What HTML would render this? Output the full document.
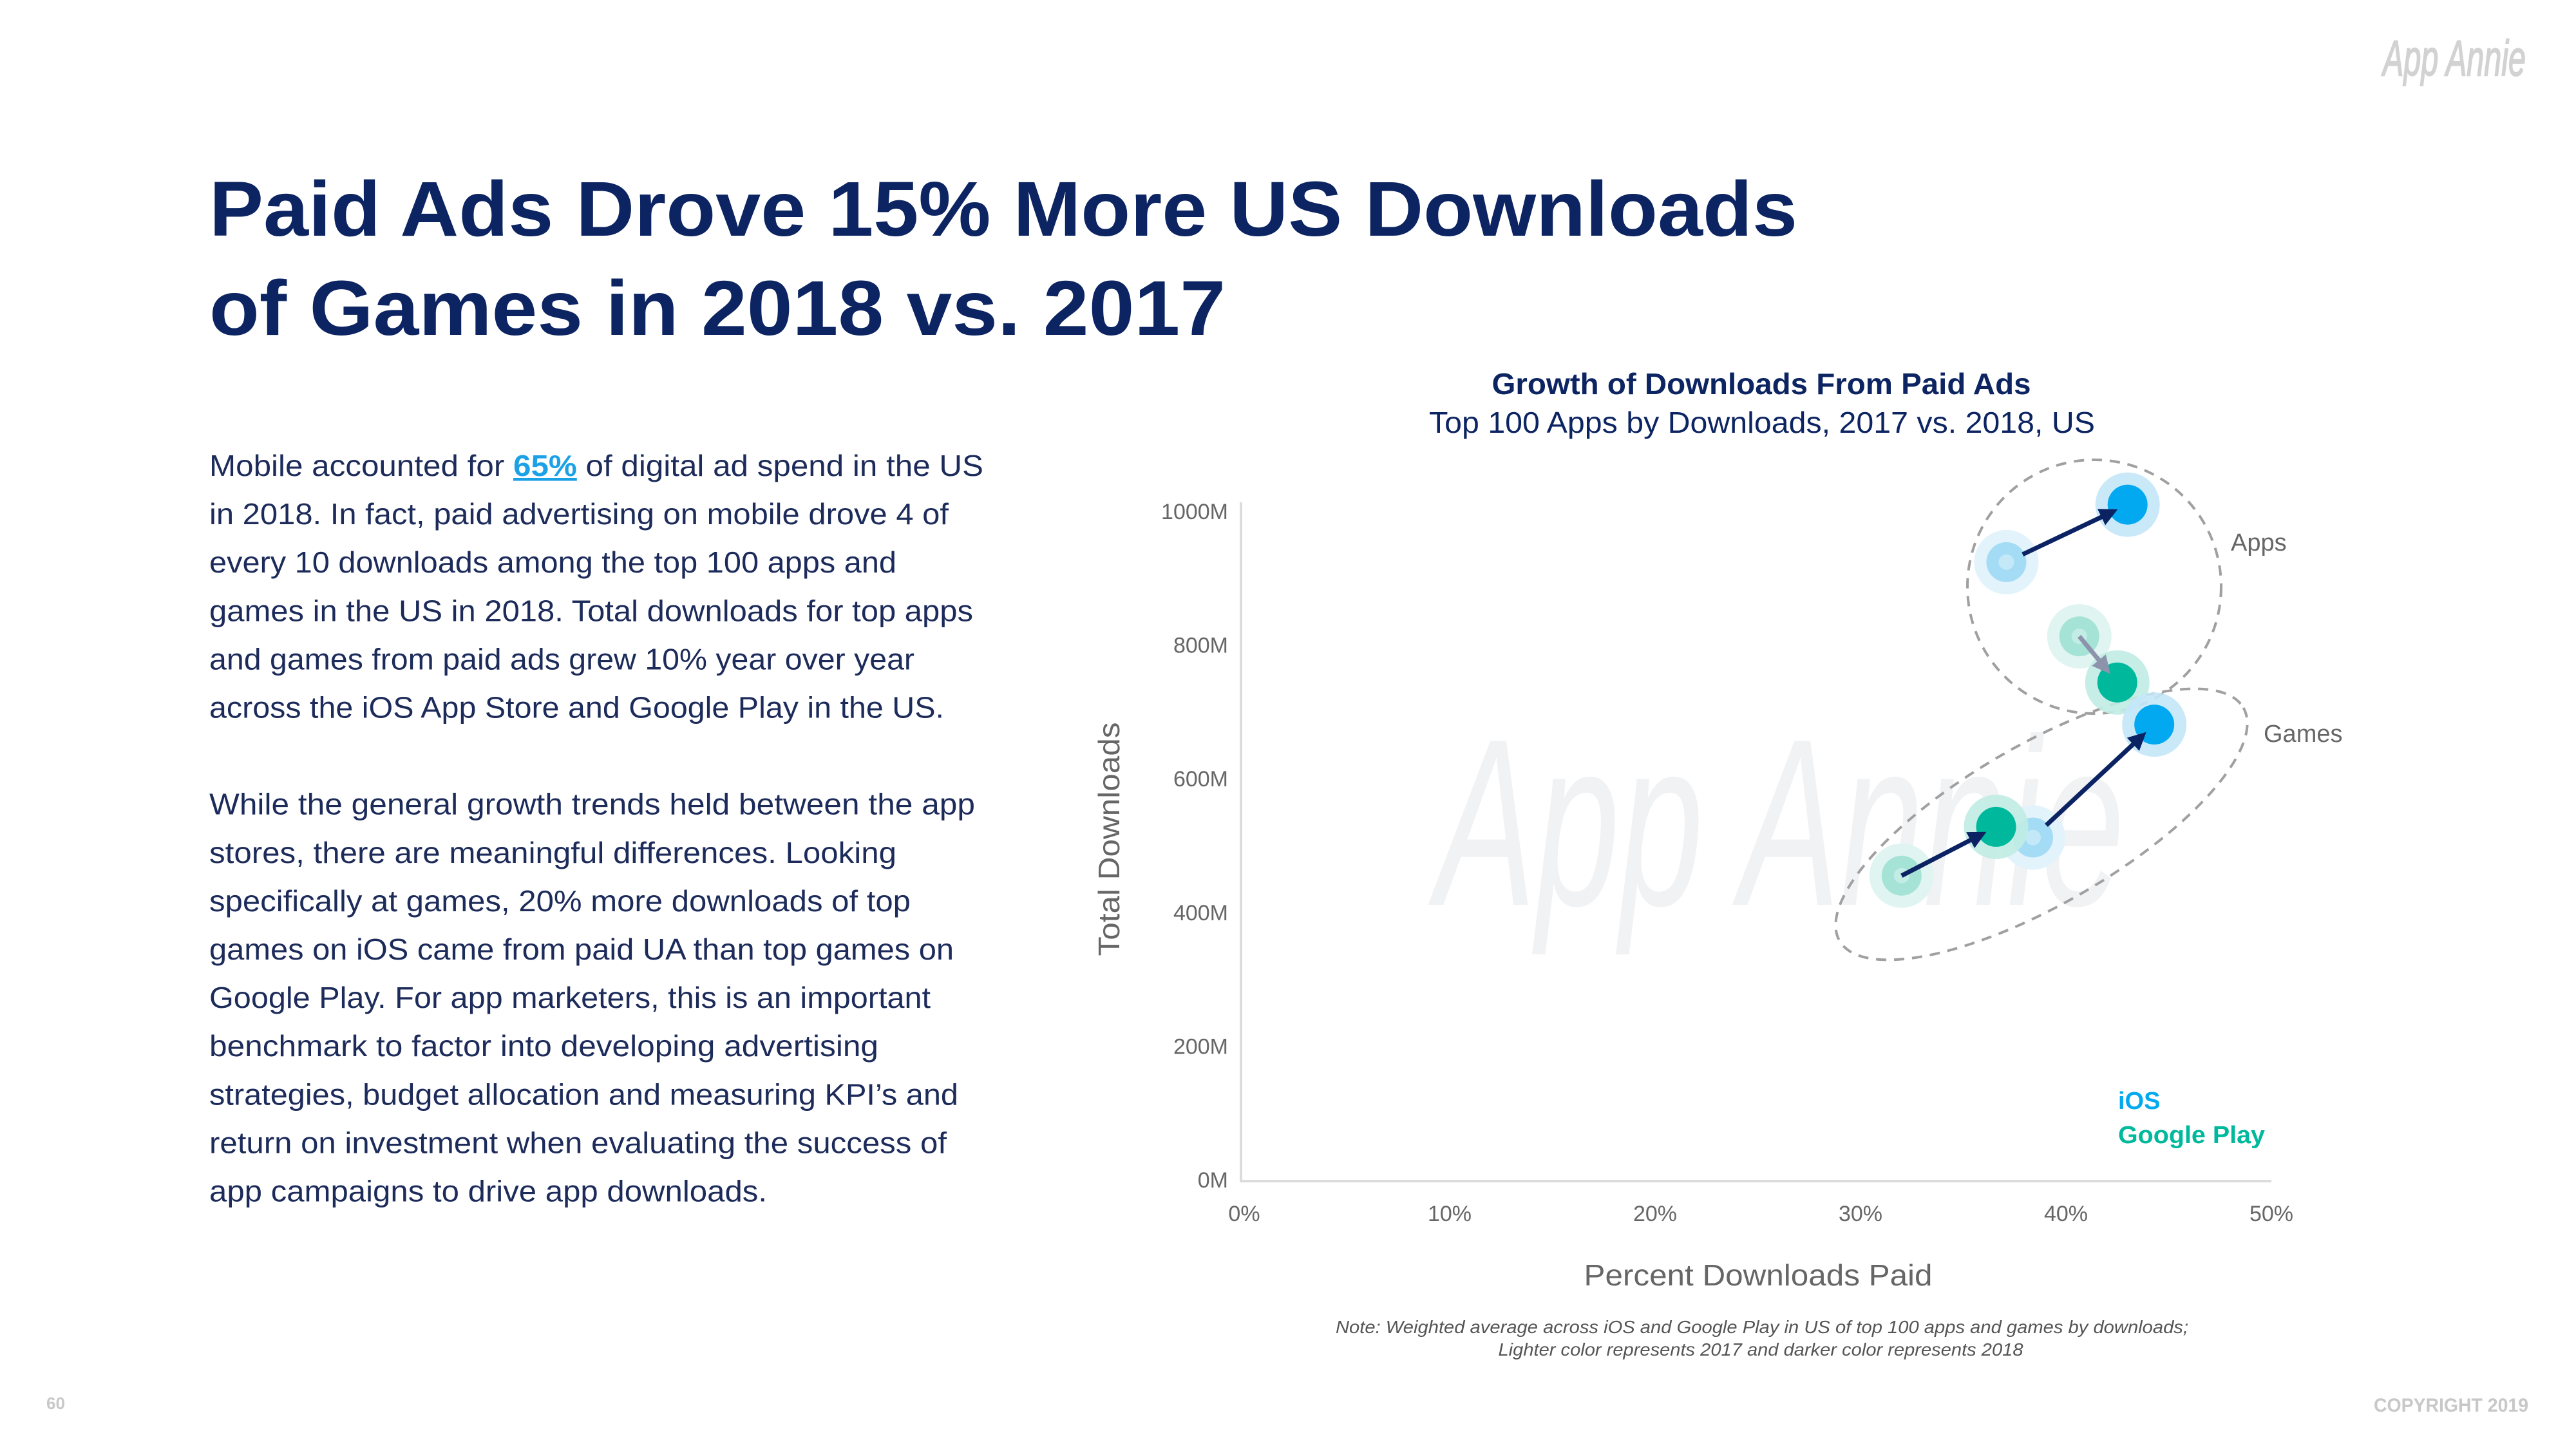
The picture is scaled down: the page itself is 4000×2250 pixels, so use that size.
<!DOCTYPE html>
<html><head><meta charset="utf-8"><style>
html,body{margin:0;padding:0;background:#fff;}
svg{display:block;}
text{font-family:"Liberation Sans",sans-serif;}
</style></head><body>
<svg id="page" width="4000" height="2250" viewBox="0 0 4000 2250" xmlns="http://www.w3.org/2000/svg">
<text x="3700" y="117" font-size="78" font-style="italic" fill="#d2d2d2" stroke="#d2d2d2" stroke-width="2" textLength="222" lengthAdjust="spacingAndGlyphs">App Annie</text>
<g fill="#0c2461" font-weight="bold" font-size="121">
<text x="325" y="366" textLength="2466" lengthAdjust="spacingAndGlyphs">Paid Ads Drove 15% More US Downloads</text>
<text x="325" y="520" textLength="1578" lengthAdjust="spacingAndGlyphs">of Games in 2018 vs. 2017</text>
</g>
<g id="body" fill="#1c2b5a" font-size="46"></g>
<text x="2735" y="612" text-anchor="middle" font-size="46" font-weight="bold" fill="#0c2461" textLength="837" lengthAdjust="spacingAndGlyphs">Growth of Downloads From Paid Ads</text>
<text x="2736" y="672" text-anchor="middle" font-size="46" fill="#0c2461" textLength="1034" lengthAdjust="spacingAndGlyphs">Top 100 Apps by Downloads, 2017 vs. 2018, US</text>
<text x="2229" y="1405" font-size="370" font-style="italic" fill="#f1f2f4" textLength="1070" lengthAdjust="spacingAndGlyphs">App Annie</text>
<g id="chart"></g>
<text transform="translate(1738,1303) rotate(-90)" text-anchor="middle" font-size="46" fill="#666" textLength="363" lengthAdjust="spacingAndGlyphs">Total Downloads</text>
<text x="2730" y="1996" text-anchor="middle" font-size="46" fill="#666" textLength="541" lengthAdjust="spacingAndGlyphs">Percent Downloads Paid</text>
<text x="3464" y="855" font-size="38" fill="#666">Apps</text>
<text x="3515" y="1152" font-size="38" fill="#666">Games</text>
<text x="3289" y="1722" font-size="38" font-weight="bold" fill="#03a9f0">iOS</text>
<text x="3289" y="1775" font-size="38" font-weight="bold" fill="#00b99c" textLength="228" lengthAdjust="spacingAndGlyphs">Google Play</text>
<g fill="#555" font-size="28" font-style="italic" text-anchor="middle">
<text x="2736" y="2070" textLength="1324" lengthAdjust="spacingAndGlyphs">Note: Weighted average across iOS and Google Play in US of top 100 apps and games by downloads;</text>
<text x="2734" y="2105" textLength="815" lengthAdjust="spacingAndGlyphs">Lighter color represents 2017 and darker color represents 2018</text>
</g>
<text x="72" y="2188" font-size="26" fill="#c8c8c8" font-weight="bold">60</text>
<text x="3686" y="2192" font-size="30" fill="#c8c8c8" font-weight="bold" textLength="240" lengthAdjust="spacingAndGlyphs">COPYRIGHT 2019</text>
</svg>
<script>
const xTicks=[0,10,20,30,40,50];
const yTicks=[0,200,400,600,800,1000];
const groups=["apps","apps","games","games"];
const platforms=["ios","gp","ios","gp"];
const pct2017=[37.1,40.65,38.4,32.0];
const dl2017=[924,813,512,455];
const pct2018=[43.0,42.5,44.3,36.6];
const dl2018=[1010,744,681,528];

const NS="http://www.w3.org/2000/svg";
const X=p=>1932+p*31.9;
const Y=v=>1832-v*1.038;
function mk(tag,attrs,parent){const e=document.createElementNS(NS,tag);for(const k in attrs)e.setAttribute(k,attrs[k]);parent.appendChild(e);return e;}

const body=document.getElementById('body');
const lines=[
["Mobile accounted for ",1202],
["in 2018. In fact, paid advertising on mobile drove 4 of",1148],
["every 10 downloads among the top 100 apps and",1067],
["games in the US in 2018. Total downloads for top apps",1186],
["and games from paid ads grew 10% year over year",1095],
["across the iOS App Store and Google Play in the US.",1141],
null,
["While the general growth trends held between the app",1189],
["stores, there are meaningful differences. Looking",1067],
["specifically at games, 20% more downloads of top",1089],
["games on iOS came from paid UA than top games on",1156],
["Google Play. For app marketers, this is an important",1120],
["benchmark to factor into developing advertising",1039],
["strategies, budget allocation and measuring KPI’s and",1163],
["return on investment when evaluating the success of",1145],
["app campaigns to drive app downloads.",866]];
lines.forEach((l,i)=>{
  if(!l)return;
  const t=mk('text',{x:325,y:739+i*75.1},body);
  
  
  if(i===0){
    t.setAttribute('textLength',1202);t.setAttribute('lengthAdjust','spacingAndGlyphs');
    const a=mk('tspan',{},t);a.textContent="Mobile accounted for ";
    const b=mk('tspan',{fill:'#1da1e6','font-weight':'bold','text-decoration':'underline'},t);b.textContent="65%";
    
    
    const c=mk('tspan',{},t);c.textContent=" of digital ad spend in the US";
  } else {
    t.textContent=l[0];t.setAttribute('textLength',l[1]);t.setAttribute('lengthAdjust','spacingAndGlyphs');
  }
});

const g=document.getElementById('chart');
const ya=mk('line',{x1:1927,y1:780,x2:1927,y2:1834,stroke:'#dcdcdc','stroke-width':4},g);


const xa=mk('line',{x1:1925,y1:1834,x2:3527,y2:1834,stroke:'#dcdcdc','stroke-width':4},g);


yTicks.forEach(v=>{const t=mk('text',{x:1907,y:Y(v)+12,'text-anchor':'end','font-size':34,fill:'#666'},g);t.textContent=v+'M';
  
  });
xTicks.forEach(v=>{const t=mk('text',{x:X(v),y:1896,'text-anchor':'middle','font-size':34,fill:'#666'},g);t.textContent=v+'%';
  
  });

const e1=mk('ellipse',{cx:3252,cy:911,rx:197,ry:197,fill:'none',stroke:'#a0a0a0','stroke-width':4,'stroke-dasharray':'16 12'},g);


const e2=mk('ellipse',{cx:3170,cy:1280,rx:362,ry:124,transform:'rotate(-30 3170 1280)',fill:'none',stroke:'#a0a0a0','stroke-width':4,'stroke-dasharray':'16 12'},g);



const col={ios:{h17:'#e3f3fb',i17:'#a3dcf4',c17:'#c3e9f8',h18:'#c3e7f8',i18:'#03a9f0'},
           gp:{h17:'#e0f5f1',i17:'#a6e3d7',c17:'#c3ede4',h18:'#c0ece3',i18:'#00b99c'}};
const defs=mk('defs',{},g);
const mk1=mk('marker',{id:'ah',markerWidth:4,markerHeight:4,refX:3,refY:2,orient:'auto',markerUnits:'strokeWidth'},defs);
mk('path',{d:'M0,0 L4,2 L0,4 z',fill:'#0b2263'},mk1);
const mk2=mk('marker',{id:'ah2',markerWidth:4,markerHeight:4,refX:3,refY:2,orient:'auto',markerUnits:'strokeWidth'},defs);
mk('path',{d:'M0,0 L4,2 L0,4 z',fill:'#8d93ab'},mk2);

pct2017.forEach((p,i)=>{
  const c=col[platforms[i]];
  const x1=X(p),y1=Y(dl2017[i]),x2=X(pct2018[i]),y2=Y(dl2018[i]);
  const a=mk('circle',{cx:x1,cy:y1,r:50,fill:c.h17},g);
  
  
  const b=mk('circle',{cx:x1,cy:y1,r:31,fill:c.i17},g);
  
  
  const b2=mk('circle',{cx:x1,cy:y1,r:12,fill:c.c17},g);
  
  
  const d=mk('circle',{cx:x2,cy:y2,r:50,fill:c.h18,'fill-opacity':0.9},g);
  
  
  const e=mk('circle',{cx:x2,cy:y2,r:31,fill:c.i18},g);
  
  
});
pct2017.forEach((p,i)=>{
  const x1=X(p),y1=Y(dl2017[i]),x2=X(pct2018[i]),y2=Y(dl2018[i]);
  const dx=x2-x1,dy=y2-y1,L=Math.hypot(dx,dy);
  const s=(i===1||i===3)?0:28, en=24;
  const gray=(i===1);
  const ln=mk('line',{x1:x1+dx/L*s,y1:y1+dy/L*s,x2:x2-dx/L*en,y2:y2-dy/L*en,stroke:gray?'#8d93ab':'#0b2263','stroke-width':7,'marker-end':gray?'url(#ah2)':'url(#ah)'},g);
  
  
});
</script>
</body></html>
